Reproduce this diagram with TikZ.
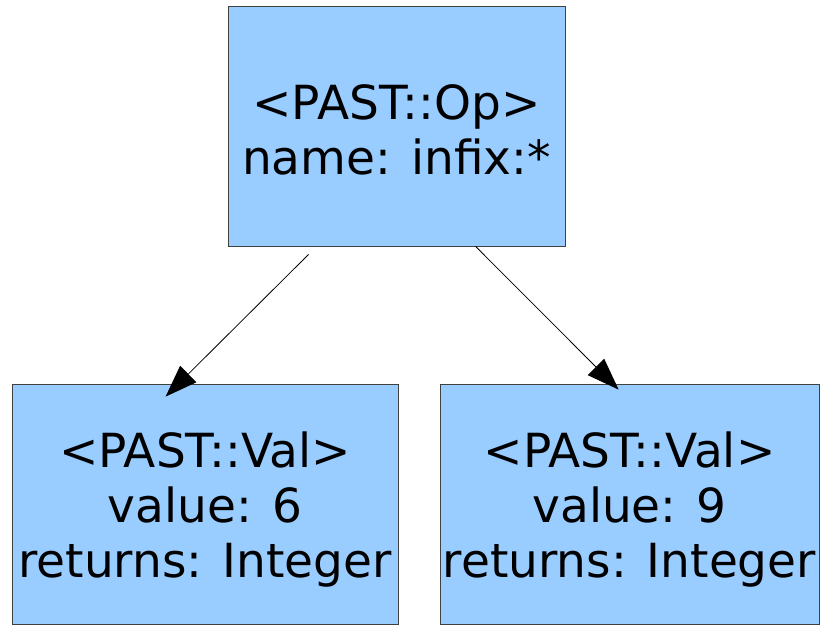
\documentclass[tikz,border=0pt]{standalone}
\usepackage{fontspec}
\setmainfont{DejaVu Sans}
\usetikzlibrary{arrows.meta, positioning, calc}
\definecolor{pastblue}{HTML}{99CCFF}
\newcommand{\pushdown}[1]{\rule{0pt}{#1}}

\begin{document}
\begin{tikzpicture}[
  x=1pt, y=-1pt,
  pastnode/.style = {rectangle, draw=black!75, line width=0.8pt, fill=pastblue,
                     minimum height=240pt, inner sep=0pt, align=center,
                     font=\fontsize{47}{55}\selectfont},
  arr/.style      = {-{Triangle[length=32pt, width=23pt]}, line width=0.8pt, draw=black},
]
\useasboundingbox (0,0) rectangle (825,625);

% ── Op node ───────────────────────────────────────────────────────────────────
\node[pastnode, minimum width=337pt] (op) at (396.5,126)
  {\pushdown{42pt}<PAST::Op>\\name: infix:*};

% ── Val nodes ─────────────────────────────────────────────────────────────────
\node[pastnode, minimum width=386pt] (v6) at (205,504)
  {\pushdown{47pt}<PAST::Val>\\value: 6\\returns: Integer};
\node[pastnode, minimum width=379pt] (v9) at (629.5,504)
  {\pushdown{47pt}<PAST::Val>\\value: 9\\returns: Integer};

% ── Arrows ────────────────────────────────────────────────────────────────────
\coordinate (s6) at ($(op.south west)+(81,8)$);
\coordinate (t6) at ($(v6.north west)+(154,13)$);
\coordinate (s9) at ($(op.south west)+(248,0)$);
\coordinate (t9) at ($(v9.north west)+(179,6)$);

\draw[arr] (s6) -- (t6);
\draw[arr] (s9) -- (t9);

\end{tikzpicture}
\end{document}
